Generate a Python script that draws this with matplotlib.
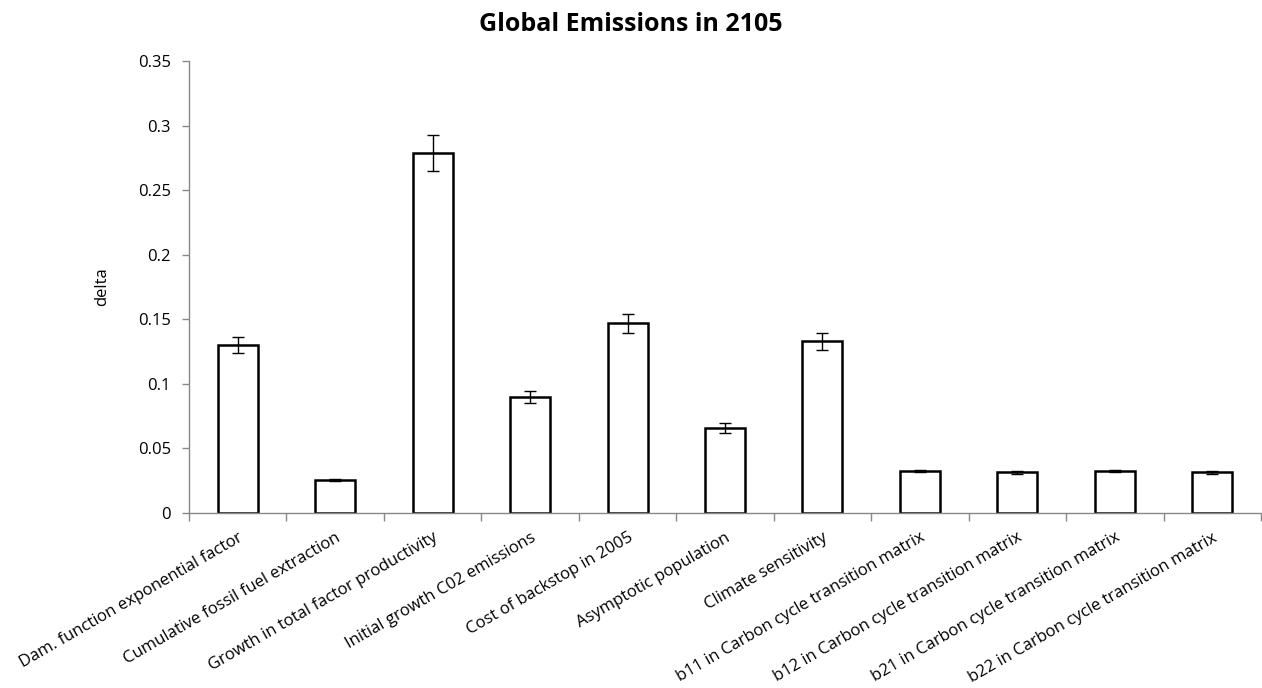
import numpy as np
import matplotlib.pyplot as plt

# --- sensitivity results ---
params = ["Dam. function exponential factor",
          "Cumulative fossil fuel extraction",
          "Growth in total factor productivity",
          "Initial growth C02 emissions",
          "Cost of backstop in 2005",
          "Asymptotic population",
          "Climate sensitivity",
          "b11 in Carbon cycle transition matrix",
          "b12 in Carbon cycle transition matrix",
          "b21 in Carbon cycle transition matrix",
          "b22 in Carbon cycle transition matrix"]
delta = [0.130, 0.0256, 0.279, 0.0896, 0.147, 0.0658, 0.133,
         0.0323, 0.0315, 0.0323, 0.0315]
delta_err = [0.0062, 0.001, 0.014, 0.0045, 0.0073, 0.0035, 0.0066,
             0.0008, 0.001, 0.0008, 0.001]

plt.rcParams['font.family'] = ['Open Sans', 'DejaVu Sans']

fig = plt.figure(figsize=(12.62, 6.88), dpi=100)
ax = fig.add_axes([0.1498, 0.2544, 0.8494, 0.6569])

x = np.arange(len(params))
ax.bar(x, delta, width=0.41, color="white", edgecolor="black", linewidth=1.8,
       yerr=delta_err, error_kw=dict(ecolor="black", elinewidth=1, capsize=4, capthick=1))

ax.set_xlim(-0.5, len(params) - 0.5)
ax.set_ylim(0, 0.35)
ax.set_yticks(np.arange(0, 0.351, 0.05))
ax.set_yticklabels(["0", "0.05", "0.1", "0.15", "0.2", "0.25", "0.3", "0.35"])

# category labels at centers, tick marks at the boundaries
ax.set_xticks(x)
ax.set_xticklabels(params, rotation=30, ha="right", rotation_mode="anchor", fontsize=12)
ax.tick_params(axis="x", which="major", length=0, pad=12)
ax.set_xticks(np.arange(-0.5, len(params) + 0.5, 1), minor=True)
ax.tick_params(axis="x", which="minor", length=6, color="#888888", width=1)
ax.tick_params(axis="y", length=5, color="#888888", width=1, labelsize=12, pad=8)

for s in ["top", "right"]:
    ax.spines[s].set_visible(False)
for s in ["left", "bottom"]:
    ax.spines[s].set_color("#888888")
    ax.spines[s].set_linewidth(1)

ax.set_ylabel("delta", fontsize=12, labelpad=20)
fig.suptitle("Global Emissions in 2105", fontsize=18, fontweight="bold", y=0.982)

fig.savefig("out.png", dpi=100)
